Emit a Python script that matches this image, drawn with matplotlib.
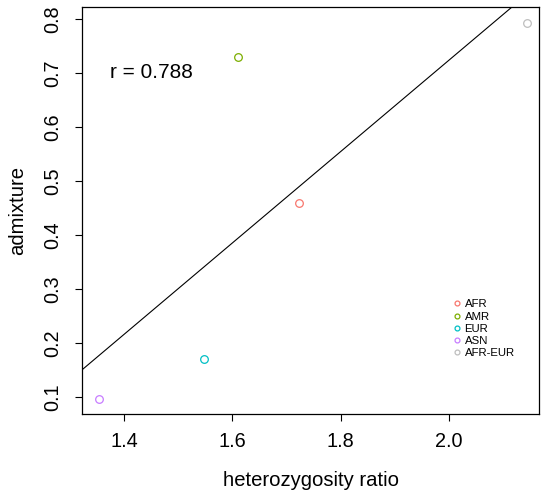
import numpy as np
import matplotlib.pyplot as plt
from matplotlib.lines import Line2D

plt.rcParams['font.family'] = ['Liberation Sans', 'DejaVu Sans']

pops = ["AFR", "AMR", "EUR", "ASN", "AFR-EUR"]
het_ratio = [1.723, 1.611, 1.548, 1.354, 2.144]
admixture = [0.459, 0.730, 0.170, 0.096, 0.793]
cols = ["#F8766D", "#7CAE00", "#00BFC4", "#C77CFF", "#BEBEBE"]
r_text = "r = 0.788"

fig = plt.figure(figsize=(5.42, 4.93), dpi=100)
ax = fig.add_axes([0.1513, 0.1602, 0.9945 - 0.1513, 0.9858 - 0.1602])

for x, y, c in zip(het_ratio, admixture, cols):
    ax.plot(x, y, "o", mfc="none", mec=c, ms=5.5, mew=0.9)

# least squares fit
b, a = np.polyfit(het_ratio, admixture, 1)
xs = np.array([1.2, 2.3])
ax.plot(xs, a + b * xs, color="black", lw=0.8)

ax.text(1.45, 0.70, r_text, ha="center", va="center", fontsize=15)

ax.set_xlim(1.3225, 2.1657)
ax.set_ylim(0.0685, 0.822)
ax.set_xticks([1.4, 1.6, 1.8, 2.0])
ax.set_yticks([0.1, 0.2, 0.3, 0.4, 0.5, 0.6, 0.7, 0.8])
ax.set_xticklabels(["1.4", "1.6", "1.8", "2.0"])
ax.set_yticklabels(["0.1", "0.2", "0.3", "0.4", "0.5", "0.6", "0.7", "0.8"],
                   rotation=90, va="center")
ax.tick_params(axis="both", labelsize=14.3, length=5, width=0.8, direction="out")
ax.tick_params(axis="x", pad=8)
ax.tick_params(axis="y", pad=9)
for s in ax.spines.values():
    s.set_linewidth(0.9)

ax.set_xlabel("heterozygosity ratio", fontsize=14.6, labelpad=14)
ax.set_ylabel("admixture", fontsize=14.6, labelpad=12)

handles = [Line2D([], [], ls="none", marker="o", mfc="none", mec=c, ms=3.5, mew=0.9)
           for c in cols]
ax.legend(handles, pops, loc="upper left", bbox_to_anchor=(0.801, 0.296),
          frameon=False, fontsize=8.2, handlelength=0.6, handletextpad=0.35,
          labelspacing=0.2, borderpad=0)

fig.savefig("out.png", dpi=100)
